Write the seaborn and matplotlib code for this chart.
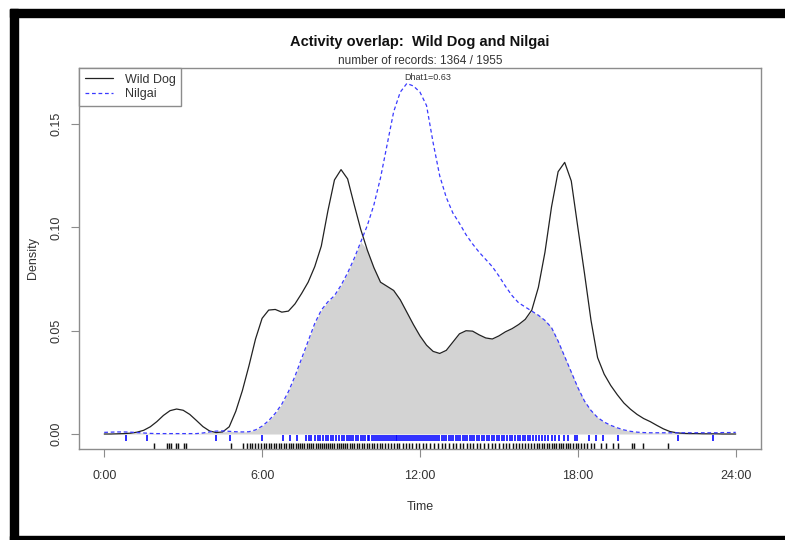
import numpy as np
import pandas as pd
import matplotlib
matplotlib.use("Agg")
import matplotlib.pyplot as plt
from matplotlib.lines import Line2D
from matplotlib.patches import Rectangle
import seaborn as sns

sns.set_theme(style="white")
plt.rcParams["font.family"] = ["Liberation Sans", "DejaVu Sans"]

# Kernel density estimates of activity (time of day, hours)
hours = np.arange(0, 24.001, 0.25)

wild_dog = [
    0.0000, 0.0000, 0.0001, 0.0002, 0.0004, 0.0009, 0.0018, 0.0035,
    0.0060, 0.0090, 0.0113, 0.0121, 0.0115, 0.0095, 0.0066, 0.0036,
    0.0015, 0.0007, 0.0010, 0.0035, 0.0110, 0.0210, 0.0330, 0.0460,
    0.0560, 0.0600, 0.0603, 0.0590, 0.0595, 0.0630, 0.0680, 0.0735,
    0.0810, 0.0910, 0.1080, 0.1230, 0.1280, 0.1235, 0.1110, 0.0990,
    0.0890, 0.0805, 0.0735, 0.0715, 0.0695, 0.0650, 0.0590, 0.0530,
    0.0475, 0.0430, 0.0400, 0.0390, 0.0405, 0.0445, 0.0485, 0.0500,
    0.0498, 0.0480, 0.0465, 0.0460, 0.0475, 0.0495, 0.0510, 0.0530,
    0.0555, 0.0600, 0.0710, 0.0880, 0.1100, 0.1270, 0.1315, 0.1225,
    0.1000, 0.0780, 0.0550, 0.0370, 0.0290, 0.0235, 0.0190, 0.0150,
    0.0120, 0.0095, 0.0075, 0.0060, 0.0042, 0.0025, 0.0012, 0.0006,
    0.0003, 0.0002, 0.0002, 0.0001, 0.0001, 0.0001, 0.0000, 0.0000,
    0.0000,
]

nilgai = [
    0.0008, 0.0009, 0.0010, 0.0010, 0.0009, 0.0007, 0.0005, 0.0003,
    0.0002, 0.0002, 0.0002, 0.0002, 0.0002, 0.0002, 0.0002, 0.0005,
    0.0010, 0.0014, 0.0015, 0.0013, 0.0011, 0.0010, 0.0011, 0.0020,
    0.0038, 0.0065, 0.0100, 0.0145, 0.0205, 0.0280, 0.0365, 0.0450,
    0.0535, 0.0600, 0.0640, 0.0670, 0.0720, 0.0780, 0.0850, 0.0930,
    0.1010, 0.1110, 0.1240, 0.1400, 0.1560, 0.1655, 0.1697, 0.1685,
    0.1655, 0.1590, 0.1410, 0.1250, 0.1145, 0.1070, 0.1020, 0.0965,
    0.0920, 0.0880, 0.0845, 0.0810, 0.0765, 0.0715, 0.0670, 0.0635,
    0.0615, 0.0595, 0.0575, 0.0550, 0.0515, 0.0450, 0.0375, 0.0300,
    0.0225, 0.0160, 0.0114, 0.0080, 0.0058, 0.0042, 0.0030, 0.0020,
    0.0013, 0.0009, 0.0007, 0.0006, 0.0006, 0.0006, 0.0006, 0.0006,
    0.0006, 0.0006, 0.0006, 0.0006, 0.0006, 0.0006, 0.0007, 0.0007,
    0.0008,
]

# Individual record times (hours) shown as rugs
nilgai_times = [
    0.84, 1.64, 4.26, 4.79, 6.01, 6.81, 7.07, 7.34, 7.65, 7.78, 7.86, 8.02,
    8.11, 8.19, 8.33, 8.41, 8.52, 8.60, 8.71, 8.79, 8.93, 9.04, 9.12, 9.21,
    9.30, 9.38, 9.47, 9.55, 9.66, 9.74, 9.83, 9.92, 10.01, 10.08, 10.16,
    10.24, 10.31, 10.39, 10.47, 10.55, 10.62, 10.70, 10.77, 10.85, 10.93,
    11.00, 11.07, 11.14, 11.22, 11.29, 11.36, 11.44, 11.51, 11.58, 11.66,
    11.73, 11.80, 11.88, 11.95, 12.03, 12.10, 12.18, 12.26, 12.33, 12.41,
    12.49, 12.58, 12.66, 12.74, 12.83, 12.92, 13.00, 13.09, 13.18, 13.27,
    13.36, 13.44, 13.53, 13.62, 13.71, 13.80, 13.89, 13.98, 14.07, 14.16,
    14.26, 14.35, 14.44, 14.54, 14.63, 14.73, 14.83, 14.92, 15.02, 15.12,
    15.21, 15.31, 15.41, 15.51, 15.61, 15.71, 15.80, 15.90, 16.00, 16.10,
    16.20, 16.31, 16.42, 16.53, 16.64, 16.76, 16.88, 17.01, 17.15, 17.30,
    17.46, 17.62, 17.88, 17.97, 18.44, 18.68, 18.94, 19.51, 21.80, 23.13,
]

wild_dog_times = [
    1.90, 2.40, 2.47, 2.55, 2.74, 2.81, 3.04, 3.12, 4.83, 5.29, 5.42, 5.55,
    5.63, 5.74, 5.86, 5.95, 6.07, 6.15, 6.26, 6.34, 6.45, 6.53, 6.64, 6.72,
    6.83, 6.92, 7.01, 7.10, 7.19, 7.27, 7.36, 7.45, 7.53, 7.61, 7.70, 7.78,
    7.86, 7.95, 8.03, 8.11, 8.19, 8.27, 8.35, 8.43, 8.51, 8.59, 8.67, 8.75,
    8.83, 8.91, 8.99, 9.07, 9.15, 9.24, 9.33, 9.42, 9.51, 9.60, 9.69, 9.79,
    9.88, 9.98, 10.07, 10.17, 10.27, 10.37, 10.47, 10.57, 10.68, 10.78,
    10.89, 11.00, 11.11, 11.22, 11.34, 11.46, 11.58, 11.70, 11.83, 11.96,
    12.10, 12.24, 12.38, 12.53, 12.68, 12.83, 12.97, 13.11, 13.25, 13.38,
    13.51, 13.64, 13.77, 13.90, 14.03, 14.16, 14.30, 14.44, 14.58, 14.72,
    14.86, 15.00, 15.14, 15.27, 15.40, 15.53, 15.65, 15.77, 15.89, 16.00,
    16.11, 16.22, 16.33, 16.43, 16.53, 16.63, 16.73, 16.82, 16.91, 17.00,
    17.09, 17.18, 17.27, 17.36, 17.45, 17.54, 17.63, 17.72, 17.82, 17.92,
    18.02, 18.13, 18.24, 18.36, 18.49, 18.60, 18.87, 19.06, 19.32, 19.51,
    20.05, 20.12, 20.46, 21.41,
]

x_ticks = [0, 6, 12, 18, 24]
x_tick_labels = ["0:00", "6:00", "12:00", "18:00", "24:00"]
y_ticks = [0.00, 0.05, 0.10, 0.15]
y_tick_labels = ["0.00", "0.05", "0.10", "0.15"]
series_names = ["Wild Dog", "Nilgai"]
dhat1 = 0.63
n_records = (1364, 1955)

df = pd.DataFrame({"hour": hours, "Wild Dog": wild_dog, "Nilgai": nilgai})
overlap = np.minimum(df["Wild Dog"].to_numpy(), df["Nilgai"].to_numpy())

fig = plt.figure(figsize=(7.85, 5.40), dpi=100)
fig.patch.set_facecolor("white")
ax = fig.add_axes([0.1006, 0.1685, 0.8688, 0.7056])
ax.set_facecolor("white")

ink = "#333333"
frame = "#8c8c8c"
dog_col = "#222222"
nil_col = "#3a3aff"
dash = (0, (3, 2.2))

# shaded overlap area
ax.fill_between(df["hour"], 0, overlap, color="#d3d3d3", linewidth=0, zorder=1)

sns.lineplot(data=df, x="hour", y="Wild Dog", ax=ax, color=dog_col,
             linewidth=0.9, zorder=3)
sns.lineplot(data=df, x="hour", y="Nilgai", ax=ax, color=nil_col,
             linewidth=0.9, linestyle=dash, zorder=3)

ax.set_xlim(-0.96, 24.96)
ax.set_ylim(-0.00726, 0.1772)

# rugs of individual records
ax.vlines(nilgai_times, -0.0035, -0.0005, color="#0000ff", linewidth=1.15, zorder=2)
ax.vlines(wild_dog_times, -0.00726, -0.0044, color="#111111", linewidth=1.05, zorder=2)

ax.set_xticks(x_ticks)
ax.set_xticklabels(x_tick_labels)
ax.set_yticks(y_ticks)
ax.set_yticklabels(y_tick_labels, rotation=90, va="center")
ax.tick_params(axis="both", direction="out", length=6, width=0.8,
               color=frame, labelcolor=ink, labelsize=9, pad=6,
               bottom=True, left=True)
ax.tick_params(axis="x", pad=9)
for s in ax.spines.values():
    s.set_visible(True)
    s.set_color(frame)
    s.set_linewidth(1.0)

ax.set_xlabel("Time", fontsize=9, color=ink, labelpad=14)
ax.set_ylabel("Density", fontsize=9, color=ink, labelpad=8)
ax.grid(False)

handles = [
    Line2D([], [], color=dog_col, linewidth=0.9),
    Line2D([], [], color=nil_col, linewidth=0.9, linestyle=dash),
]
leg = ax.legend(handles, series_names, loc="upper left", bbox_to_anchor=(0, 1),
                borderaxespad=0, fancybox=False, framealpha=1, edgecolor=frame,
                fontsize=9, handlelength=2.3, handletextpad=0.9,
                borderpad=0.45, labelspacing=0.2)
leg.get_frame().set_linewidth(1.0)
for t in leg.get_texts():
    t.set_color(ink)

fig.text(0.535, 0.922, "Activity overlap:  Wild Dog and Nilgai",
         ha="center", va="center", fontsize=10.5, fontweight="bold", color="#111111")
fig.text(0.535, 0.887, f"number of records: {n_records[0]} / {n_records[1]}",
         ha="center", va="center", fontsize=8.5, color=ink)
peak_idx = int(np.argmax(nilgai))
ax.text(hours[peak_idx] + 0.8, max(nilgai) + 0.0027, f"Dhat1={dhat1:.2f}",
        ha="center", va="center", fontsize=6.5, color=ink)

# black page frame
fig.patches.append(Rectangle((10 / 785, 0), 8 / 785, 1 - 9 / 540,
                             transform=fig.transFigure, color="black", zorder=10))
fig.patches.append(Rectangle((10 / 785, 1 - 17 / 540), 1 - 10 / 785, 8 / 540,
                             transform=fig.transFigure, color="black", zorder=10))
fig.patches.append(Rectangle((10 / 785, 0), 1 - 10 / 785, 4 / 540,
                             transform=fig.transFigure, color="black", zorder=10))

fig.savefig("out.png", dpi=100)
